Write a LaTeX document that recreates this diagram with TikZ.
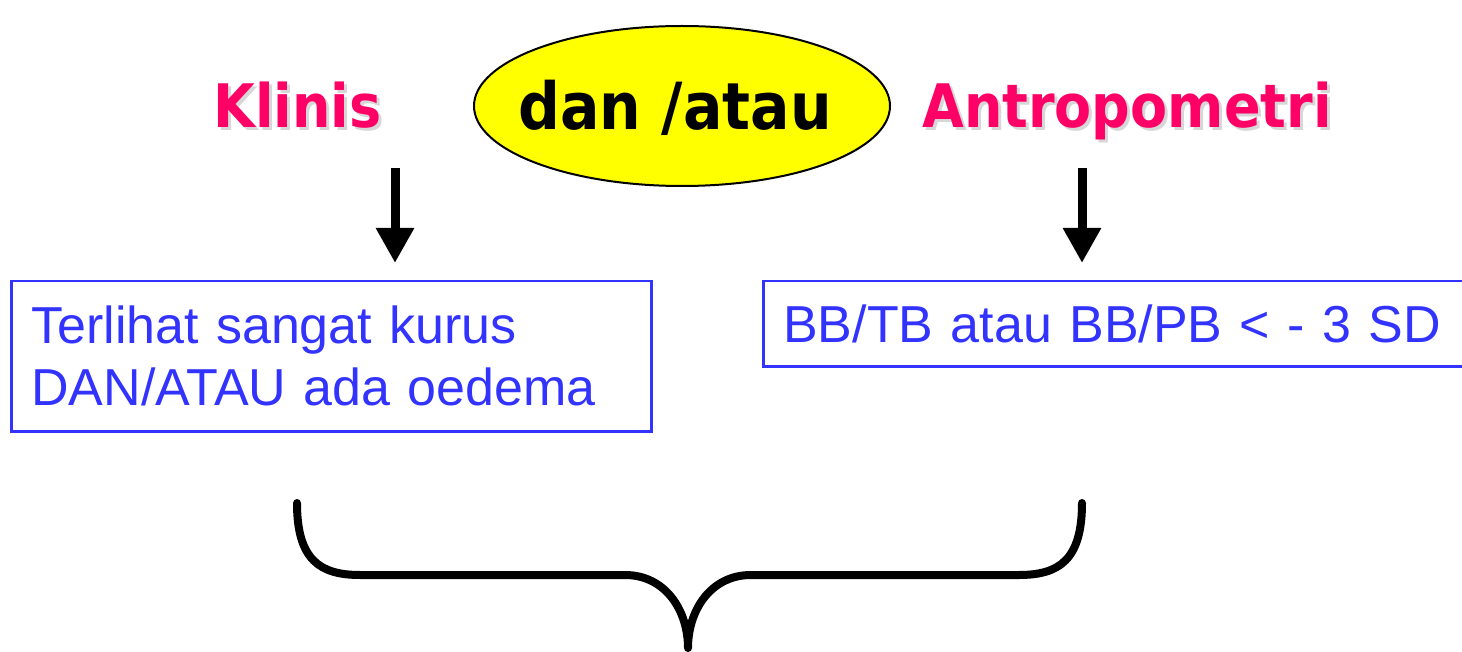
\documentclass[tikz,border=0pt]{standalone}
\usepackage{fontspec}
\setmainfont{Liberation Sans}
\newfontfamily\tfont[FakeStretch=0.9]{DejaVu Sans}
\usetikzlibrary{arrows.meta,shapes.geometric}
\definecolor{pinkt}{RGB}{255,0,102}
\definecolor{bluet}{RGB}{51,51,255}
\definecolor{shad}{RGB}{215,215,215}
\definecolor{yell}{RGB}{255,255,0}
\tikzset{
  title/.style={anchor=base west,inner sep=0pt,text=pinkt,font=\tfont\bfseries\fontsize{60}{60}\selectfont},
  titleshadow/.style={anchor=base west,inner sep=0pt,text=shad,font=\tfont\bfseries\fontsize{60}{60}\selectfont},
  infobox/.style={draw=bluet,line width=2.5pt,text=bluet,anchor=north west,align=left,inner xsep=20pt,
     font=\fontsize{52}{62}\selectfont},
  downarrow/.style={line width=9pt,-{Triangle[width=36pt,length=35pt]}},
  bracestyle/.style={line width=8pt,line cap=round,line join=round}
}
\begin{document}
\begin{tikzpicture}[x=1pt,y=-1pt]
\useasboundingbox (0,0) rectangle (1462,652);
% shadows
\node[titleshadow] (klinisS) at (216,131) {Klinis};
\node[titleshadow] (antroS) at (925,131) {Antropometri};
% titles
\node[title] (klinis) at (213,128) {Klinis};
\node[title] (antro) at (922,128) {Antropometri};
% ellipse
\node[ellipse,draw=black,line width=2pt,fill=yell,minimum width=416pt,minimum height=160pt,inner sep=0pt] (dan) at (682,106) {};
\node[anchor=base,inner sep=0pt,font=\tfont\bfseries\fontsize{65}{65}\selectfont] (dantext) at (675,130) {dan /atau};
% boxes
\node[infobox,text width=600pt,minimum height=150pt] (kbox) at (10,280) {Terlihat sangat kurus\\DAN/ATAU ada oedema};
\node[infobox,text width=660pt,minimum height=85pt] (abox) at (762,280) {BB/TB atau BB/PB {<} - 3 SD};
% arrows
\coordinate (a1s) at (395,168);
\coordinate (a1e) at (395,263);
\coordinate (a2s) at (1082,168);
\coordinate (a2e) at (1082,263);
\draw[downarrow] (a1s) -- (a1e);
\draw[downarrow] (a2s) -- (a2e);
% brace
\draw[bracestyle] (297,503) .. controls (297,560) and (320,575) .. (360,575) -- (625,575)
  .. controls (665,575) and (688,610) .. (688,648)
  .. controls (688,610) and (711,575) .. (751,575) -- (1019,575)
  .. controls (1059,575) and (1082,560) .. (1082,503);
\end{tikzpicture}
\end{document}
